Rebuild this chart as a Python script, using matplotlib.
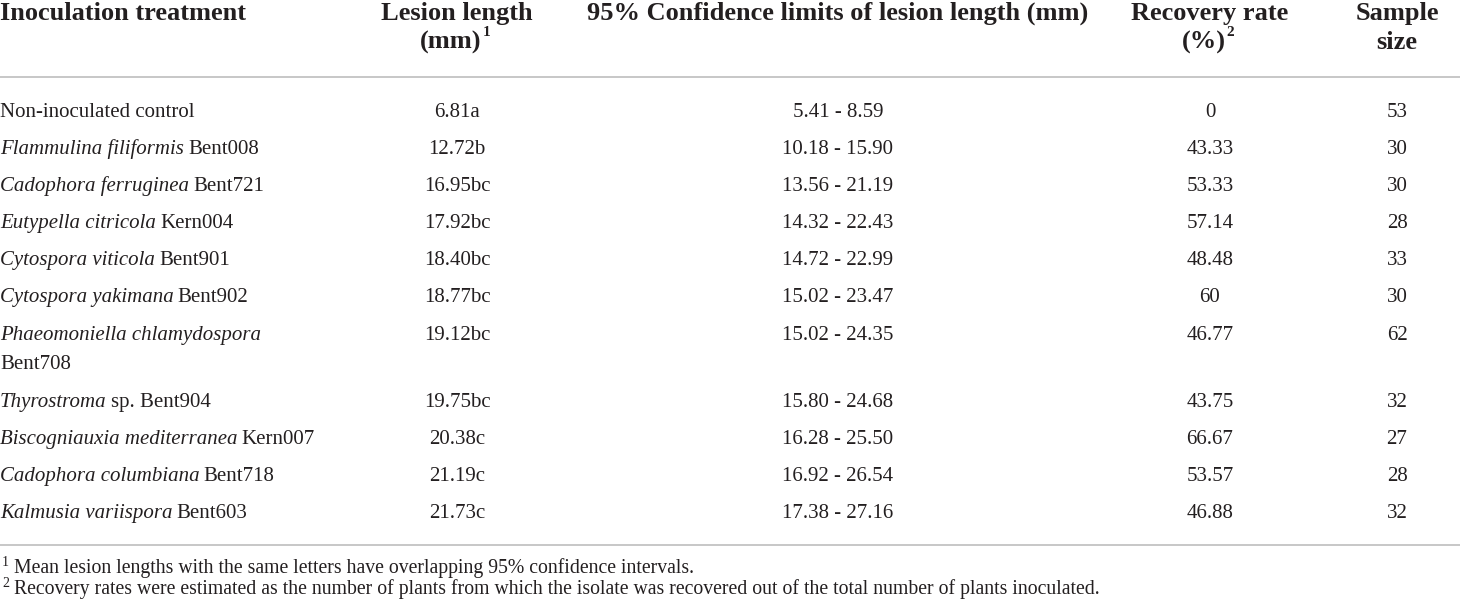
import matplotlib
matplotlib.use("Agg")
import matplotlib.pyplot as plt
from matplotlib.lines import Line2D

# table data
treatment_italic = ["", "Flammulina filiformis", "Cadophora ferruginea", "Eutypella citricola",
                    "Cytospora viticola", "Cytospora yakimana", "Phaeomoniella chlamydospora",
                    "Thyrostroma", "Biscogniauxia mediterranea", "Cadophora columbiana",
                    "Kalmusia variispora"]
treatment_roman = ["Non-inoculated control", "Bent008", "Bent721", "Kern004", "Bent901",
                   "Bent902", "Bent708", "sp. Bent904", "Kern007", "Bent718", "Bent603"]
lesion_length = [6.81, 12.72, 16.95, 17.92, 18.40, 18.77, 19.12, 19.75, 20.38, 21.19, 21.73]
lesion_letters = ["a", "b", "bc", "bc", "bc", "bc", "bc", "bc", "c", "c", "c"]
ci_low = [5.41, 10.18, 13.56, 14.32, 14.72, 15.02, 15.02, 15.80, 16.28, 16.92, 17.38]
ci_high = [8.59, 15.90, 21.19, 22.43, 22.99, 23.47, 24.35, 24.68, 25.50, 26.54, 27.16]
recovery_rate = [0, 43.33, 53.33, 57.14, 48.48, 60, 46.77, 43.75, 66.67, 53.57, 46.88]
sample_size = [53, 30, 30, 28, 33, 30, 62, 32, 27, 28, 32]

# (line 1, line 2, superscript on line 2)
headers = [("Inoculation treatment", "", ""), ("Lesion length", "(mm)", "1"),
           ("95% Confidence limits of lesion length (mm)", "", ""),
           ("Recovery rate", "(%)", "2"), ("Sample", "size", "")]
footnotes = [("1", "Mean lesion lengths with the same letters have overlapping 95% confidence intervals."),
             ("2", "Recovery rates were estimated as the number of plants from which the isolate "
                   "was recovered out of the total number of plants inoculated.")]

W, H = 1460, 605
FONT = "Liberation Serif"
INK = "#231f20"
RULE = "#bdbdbd"

# layout in pixels from the top left; y values are text baselines
col_x = [0, 457, 838, 1210, 1397]
row_base = [117, 154, 191, 228, 265, 302, 340, 407, 444, 481, 518]
wrap_rows = {6}          # roman part goes to a second line
wrap_step = 29
head_base = [20, 49]
rule_top, rule_bottom = 77, 545
foot_base = [573, 594]
body_size, head_size, foot_size = 15, 19, 14.2

fig = plt.figure(figsize=(W / 100, H / 100), dpi=100)
renderer = fig.canvas.get_renderer()


def fx(px):
    return px / W


def fy(py):
    return 1 - py / H


def put(px, py, s, size=body_size, ha="center", **kw):
    return fig.text(fx(px), fy(py), s, fontsize=size, ha=ha, va="baseline",
                    family=FONT, color=INK, **kw)


# header
for i, (line1, line2, sup) in enumerate(headers):
    ha = "left" if i == 0 else "center"
    put(col_x[i], head_base[0], line1, size=head_size, ha=ha, weight="bold")
    if line2:
        shift = 6 if sup else 0
        t = put(col_x[i] - shift, head_base[1], line2, size=head_size, ha=ha, weight="bold")
        if sup:
            x1 = t.get_window_extent(renderer).x1
            put(x1 + 0.5, head_base[1] - 13, sup, size=11, ha="left", weight="bold")

for yy in (rule_top, rule_bottom):
    fig.add_artist(Line2D([0, 1], [fy(yy), fy(yy)], color=RULE, lw=1.2,
                          transform=fig.transFigure))

# body rows
gap = body_size * 0.27
for i, y in enumerate(row_base):
    x = col_x[0]
    if treatment_italic[i]:
        t = put(x, y, treatment_italic[i], ha="left", style="italic")
        x = t.get_window_extent(renderer).x1 + gap
    if i in wrap_rows:
        put(col_x[0], y + wrap_step, treatment_roman[i], ha="left")
    else:
        put(x, y, treatment_roman[i], ha="left")

    put(col_x[1], y, f"{lesion_length[i]:.2f}{lesion_letters[i]}")
    put(col_x[2], y, f"{ci_low[i]:.2f} - {ci_high[i]:.2f}")
    put(col_x[3], y, f"{recovery_rate[i]:g}")
    put(col_x[4], y, f"{sample_size[i]}")

# footnotes
for y, (mark, note) in zip(foot_base, footnotes):
    put(2, y - 7, mark, size=10, ha="left")
    put(14, y, note, size=foot_size, ha="left")

fig.savefig("out.png", dpi=100, facecolor="white")
